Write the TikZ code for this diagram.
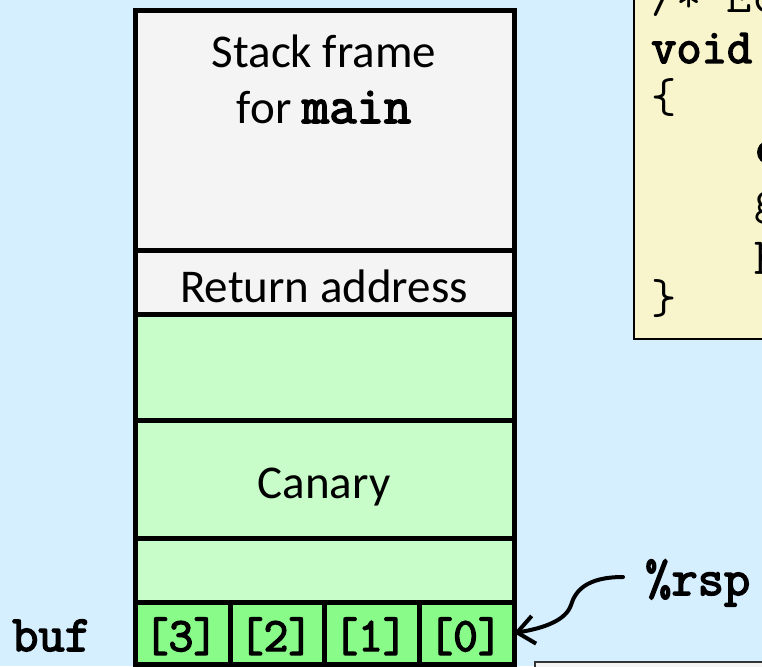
\documentclass[tikz,border=0pt]{standalone}
\usepackage{fontspec}
\setmainfont{Carlito}
\newfontfamily\heavytt{Latin Modern Mono}[FakeBold=3]
\usetikzlibrary{arrows.meta}

\definecolor{bgblue}{RGB}{213,239,255}
\definecolor{framegray}{RGB}{244,244,244}
\definecolor{lightgreen}{RGB}{200,252,200}
\definecolor{bufgreen}{RGB}{136,251,136}
\definecolor{codecream}{RGB}{248,245,204}

\begin{document}
\begin{tikzpicture}[x=1pt,y=-1pt,
  slot/.style={draw=black, line width=5pt, minimum width=378.5pt, inner sep=0pt, outer sep=0pt},
  cell/.style={draw=black, line width=5pt, fill=bufgreen, minimum width=94.6pt, minimum height=62pt, inner sep=0pt, outer sep=0pt},
  label/.style={inner sep=0pt, anchor=base, font=\fontsize{47}{56}\selectfont},
  celltext/.style={inner sep=0pt, anchor=base, font=\fontsize{48}{50}\selectfont\heavytt},
  code/.style={inner sep=0pt, anchor=base west, font=\fontsize{49}{50}\selectfont\ttfamily},
  codebf/.style={code, font=\fontsize{49}{50}\selectfont\heavytt},
  reg/.style={inner sep=0pt, anchor=base west, font=\fontsize{51}{50}\selectfont\heavytt}]

\useasboundingbox (0,0) rectangle (762,666);
\clip (0,0) rectangle (762,666);
\fill[bgblue] (0,0) rectangle (762,666);

% stack frames, top to bottom
\node[slot, fill=framegray, minimum height=239pt] (mainframe) at (324.75,130.5) {};
\node[slot, fill=framegray, minimum height=64.5pt] (retaddr) at (324.75,282.25) {};
\node[slot, fill=lightgreen, minimum height=106pt] (pad1) at (324.75,367.5) {};
\node[slot, fill=lightgreen, minimum height=118pt] (canary) at (324.75,479.5) {};
\node[slot, fill=lightgreen, minimum height=63.5pt] (pad2) at (324.75,570.25) {};

% buf[4]
\node[cell] (c3) at (182.8,633) {};
\node[cell] (c2) at (277.4,633) {};
\node[cell] (c1) at (372.0,633) {};
\node[cell] (c0) at (466.7,633) {};

\node[celltext] (t3) at (181,651) {[3]};
\node[celltext] (t2) at (276,651) {[2]};
\node[celltext] (t1) at (370.5,651) {[1]};
\node[celltext] (t0) at (465.5,651) {[0]};

% labels
\node[label] (lstack) at (324,68) {Stack frame};
\node[label] (lfor) at (324,123) {for {\fontsize{53}{56}\selectfont\heavytt main}};
\node[label] (lret) at (324,302) {Return address};
\node[label] (lcan) at (324,498) {Canary};
\node[reg] (lbuf) at (12,651) {buf};

% source listing
\node[draw=black, line width=2.5pt, fill=codecream, minimum width=200pt, minimum height=400pt, anchor=south west, inner sep=0pt] (codebox) at (632.5,340) {};
\node[code] (cl0) at (651,13) {/* Ec};
\node[codebf] (cl1) at (651,63) {void};
\node[code] (cl2) at (651,113) {\{};
\node[codebf] (cl3) at (754,163) {c};
\node[code] (cl4) at (754,213) {g};
\node[code] (cl5) at (754,263) {p};
\node[code] (cl6) at (651,313) {\}};

% stack pointer
\node[reg] (rsp) at (645,595) {\%rsp};
\coordinate (rspfrom) at (623,577);
\draw[line width=4pt, line cap=round, -{Straight Barb[length=17pt,width=28pt,line width=4pt]}]
  (rspfrom) .. controls (585,577) and (575,592) .. (571,605)
  .. controls (566,620) and (545,628) .. (c0.east);

% next box, partly shown
\node[draw=black!80, line width=2pt, fill=framegray, minimum width=300pt, minimum height=60pt, anchor=north west, inner sep=0pt] (nextbox) at (534,661) {};
\end{tikzpicture}
\end{document}
